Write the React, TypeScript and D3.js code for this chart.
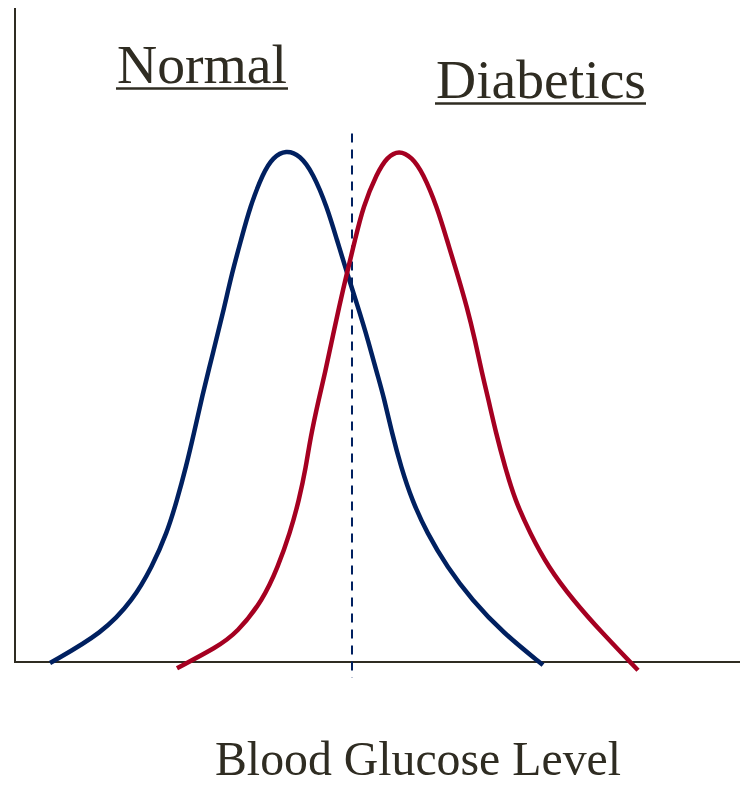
import React from "react";
import * as d3 from "d3";

// Glucose level (arbitrary units) and relative frequency (0-100)
const normalGlucose = [7, 17.6, 23.6, 27.4, 30.4, 32.4, 34.2, 35.8, 37.4, 39.6, 41.6, 43.4, 45.2, 47, 49.6, 51.6, 54.2, 57, 59.6, 62.4, 64.4, 66.4, 68.6, 70.6, 72.4, 73.8, 75.4, 77.2, 79.4, 82.4, 86.4, 91.4, 97.6, 105.6];
const normalFreq = [-0.2, 5.7, 12.1, 18.6, 25.2, 31.6, 38.1, 44.7, 51.8, 60.4, 68.2, 76.0, 82.4, 88.9, 95.5, 98.6, 100, 99.0, 95.5, 88.9, 82.4, 76.0, 69.3, 62.9, 56.4, 51.6, 44.7, 38.1, 31.6, 25.2, 18.6, 12.1, 5.7, -0.6];

const diabeticGlucose = [32.4, 40.4, 44.4, 49.6, 52.6, 55, 56.8, 58.2, 59, 60.8, 62, 63.4, 64.8, 66.4, 68, 69.6, 72.4, 74.4, 76.8, 79.4, 81.6, 84.4, 86.4, 88.4, 90.4, 92, 93.4, 94.6, 96.2, 98, 100, 103, 106.6, 111.6, 117.4, 124.6];
const diabeticFreq = [-1.2, 2.9, 5.7, 12.1, 18.6, 25.2, 31.6, 38.1, 43.4, 51.6, 56.4, 62.9, 69.3, 76.0, 82.4, 88.9, 95.5, 98.6, 100, 98.6, 95.5, 88.9, 82.4, 76.0, 69.3, 62.9, 56.4, 51.6, 44.7, 38.1, 31.6, 25.2, 18.6, 12.1, 5.7, -1.6];

const thresholdGlucose = 67.4;
const thresholdRange = [-3.1, 103.2];
const seriesLabels = ["Normal", "Diabetics"];
const xAxisTitle = "Blood Glucose Level";

const W = 740;
const H = 786;
const textColor = "#2f2c22";
const blue = "#002060";
const red = "#a50021";
const font = "'Liberation Serif', 'Times New Roman', serif";

export default function App() {
  const x = d3.scaleLinear().domain([0, 145]).range([15, 740]);
  const y = d3.scaleLinear().domain([0, 100]).range([662, 150]);

  const line = d3
    .line<[number, number]>()
    .x((d) => x(d[0]))
    .y((d) => y(d[1]))
    .curve(d3.curveBasis);

  const normalPts = normalGlucose.map((g, i) => [g, normalFreq[i]] as [number, number]);
  const diabPts = diabeticGlucose.map((g, i) => [g, diabeticFreq[i]] as [number, number]);

  return (
    <svg width={W} height={H} style={{ position: "absolute", left: 0, top: 0, background: "#fff" }}>
      {/* axes */}
      <line x1={x(0)} x2={x(0)} y1={8} y2={y(0) + 1} stroke={textColor} strokeWidth={2} />
      <line x1={x(0)} x2={x(145)} y1={y(0)} y2={y(0)} stroke={textColor} strokeWidth={2} />

      {/* threshold */}
      <line
        x1={x(thresholdGlucose)}
        x2={x(thresholdGlucose)}
        y1={y(thresholdRange[1])}
        y2={y(thresholdRange[0])}
        stroke={blue}
        strokeWidth={2}
        strokeDasharray="9,7"
      />

      <path d={line(normalPts) || ""} fill="none" stroke={blue} strokeWidth={4.5} strokeLinecap="butt" />
      <path d={line(diabPts) || ""} fill="none" stroke={red} strokeWidth={4.5} strokeLinecap="butt" />

      {/* labels */}
      <text x={117} y={83} fontFamily={font} fontSize={55} fill={textColor} textLength={170} lengthAdjust="spacingAndGlyphs">
        {seriesLabels[0]}
      </text>
      <line x1={116} x2={288} y1={88.5} y2={88.5} stroke={textColor} strokeWidth={2.5} />
      <text x={436} y={98} fontFamily={font} fontSize={54} fill={textColor} textLength={210} lengthAdjust="spacingAndGlyphs">
        {seriesLabels[1]}
      </text>
      <line x1={435} x2={646} y1={103.5} y2={103.5} stroke={textColor} strokeWidth={2.5} />

      <text x={215} y={775} fontFamily={font} fontSize={49} fill={textColor} textLength={406} lengthAdjust="spacingAndGlyphs">
        {xAxisTitle}
      </text>
    </svg>
  );
}
